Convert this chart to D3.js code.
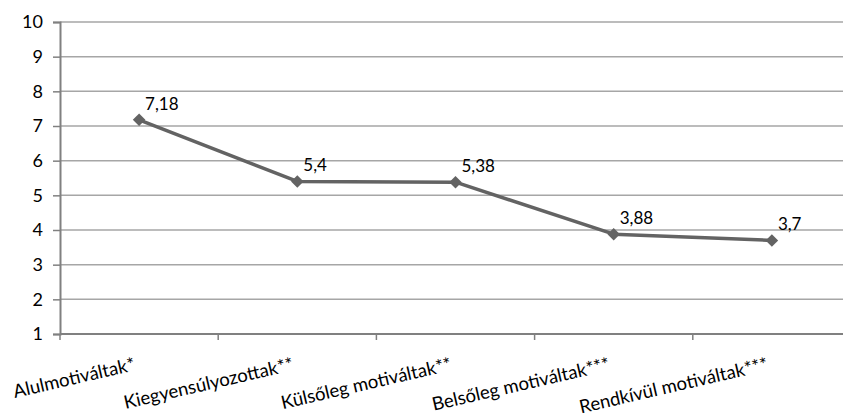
<!DOCTYPE html>
<html><head><meta charset="utf-8">
<script src="https://cdn.jsdelivr.net/npm/d3@7"></script>
<style>body{margin:0;background:#fff}svg{display:block}</style>
</head><body>
<svg id="c" width="843" height="419"></svg>
<script>
const categories = ["Alulmotiváltak*", "Kiegyensúlyozottak**", "Külsőleg motiváltak**", "Belsőleg motiváltak***", "Rendkívül motiváltak***"];
const values = [7.18, 5.4, 5.38, 3.88, 3.7];
const valueLabels = ["7,18", "5,4", "5,38", "3,88", "3,7"];
const yTicks = [1, 2, 3, 4, 5, 6, 7, 8, 9, 10];

(function () {
const svg = d3.select("#c");
const mLeft = 60, mRight = 851, mTop = 22, mBottom = 334;
const font = "Lato, 'Open Sans', sans-serif";

const x = d3.scaleBand().domain(categories).range([mLeft, mRight]);
const y = d3.scaleLinear().domain([1, 10]).range([mBottom, mTop]);

// gridlines
svg.append("g").selectAll("line").data(yTicks.filter(d => d > 1)).join("line")
  .attr("x1", mLeft).attr("x2", 843).attr("y1", d => y(d)).attr("y2", d => y(d))
  .attr("stroke", "#a6a6a6").attr("stroke-width", 1.5);

// y axis
const ya = svg.append("g").attr("transform", `translate(${mLeft},0)`)
  .call(d3.axisLeft(y).tickValues(yTicks).tickSize(7).tickPadding(10).tickFormat(d3.format("d")));
ya.select(".domain").attr("stroke", "#808080").attr("stroke-width", 2);
ya.selectAll(".tick line").attr("stroke", "#808080").attr("stroke-width", 1.5);
ya.selectAll(".tick text").attr("font-family", font).attr("font-size", 18).attr("fill", "#000");

// x axis line
svg.append("line").attr("x1", mLeft).attr("x2", 843).attr("y1", mBottom).attr("y2", mBottom)
  .attr("stroke", "#808080").attr("stroke-width", 2);
// x boundary ticks
const bounds = categories.map(c => x(c)).concat([mRight]);
svg.append("g").selectAll("line").data(bounds.filter(b => b <= 843)).join("line")
  .attr("x1", d => d).attr("x2", d => d).attr("y1", mBottom).attr("y2", mBottom + 6)
  .attr("stroke", "#808080").attr("stroke-width", 1.5);

// x labels rotated
svg.append("g").selectAll("text").data(categories).join("text")
  .attr("transform", d => `translate(${x(d) + x.bandwidth()/2 - 3},${mBottom + 36}) rotate(-13)`)
  .attr("text-anchor", "end")
  .attr("font-family", font).attr("font-size", 18.5).attr("fill", "#000")
  .text(d => d);

// line
const pts = categories.map((c, i) => [x(c) + x.bandwidth()/2, y(values[i])]);
svg.append("path").attr("d", d3.line()(pts)).attr("fill", "none")
  .attr("stroke", "#636363").attr("stroke-width", 3.5).attr("stroke-linejoin", "round");

// markers
svg.append("g").selectAll("path").data(pts).join("path")
  .attr("transform", d => `translate(${d[0]},${d[1]})`)
  .attr("d", d3.symbol().type(d3.symbolDiamond2).size(100))
  .attr("fill", "#636363");

// data labels
svg.append("g").selectAll("text").data(pts).join("text")
  .attr("x", d => d[0] + 6).attr("y", d => d[1] - 10)
  .attr("font-family", font).attr("font-size", 17).attr("fill", "#000")
  .text((d, i) => valueLabels[i]);
})();
</script>
</body></html>
